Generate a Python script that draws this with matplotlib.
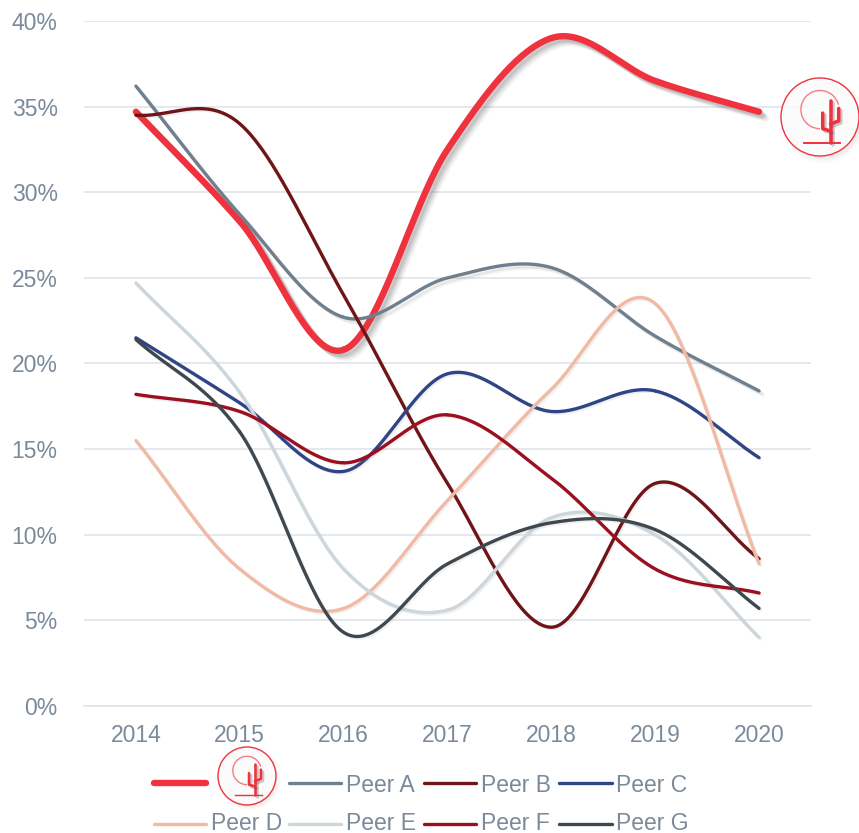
import numpy as np
import matplotlib
matplotlib.use('Agg')
import matplotlib.pyplot as plt
import matplotlib.patheffects as pe
from matplotlib.patches import Arc, Circle

plt.rcParams['font.family'] = ['Liberation Sans', 'DejaVu Sans']

years = ['2014', '2015', '2016', '2017', '2018', '2019', '2020']
y_ticks = [0, 5, 10, 15, 20, 25, 30, 35, 40]

company = [34.7, 28.3, 20.8, 32.5, 39.0, 36.5, 34.7]
peer_a = [36.2, 28.7, 22.7, 25.0, 25.6, 21.6, 18.4]
peer_b = [34.5, 34.0, 24.0, 13.0, 4.6, 13.0, 8.6]
peer_c = [21.5, 17.7, 13.7, 19.4, 17.2, 18.4, 14.5]
peer_d = [15.5, 8.0, 5.7, 12.0, 18.5, 23.5, 8.3]
peer_e = [24.7, 18.3, 8.0, 5.6, 11.0, 10.0, 4.0]
peer_f = [18.2, 17.2, 14.2, 17.0, 13.3, 8.0, 6.6]
peer_g = [21.4, 16.0, 4.3, 8.3, 10.7, 10.3, 5.7]

RED = '#f0323f'
TEXT = '#7b8a9a'
GRID = '#e0e4ea'
W, H = 859, 833


def smooth(values, n=40):
    # same idea as a spreadsheet "smoothed line": a spline through the yearly values
    v = np.array(values, dtype=float)
    p = np.concatenate([[2 * v[0] - v[1]], v, [2 * v[-1] - v[-2]]])
    xs, ys = [], []
    for i in range(len(v) - 1):
        t = np.linspace(0, 1, n)
        p0, p1, p2, p3 = p[i], p[i + 1], p[i + 2], p[i + 3]
        ys.append(0.5 * (2 * p1 + (p2 - p0) * t + (2 * p0 - 5 * p1 + 4 * p2 - p3) * t ** 2
                         + (3 * p1 - p0 - 3 * p2 + p3) * t ** 3))
        xs.append(i + t)
    return np.concatenate(xs), np.concatenate(ys)


def logo(ov, cx, cy, r):
    # soft shadow, then ring, sun arc and cactus
    for k, a in ((1.10, 0.025), (1.06, 0.03), (1.02, 0.04), (0.98, 0.05)):
        ov.add_patch(Circle((cx + r * 0.07, cy + r * 0.09), r * k, fc='#808080', ec='none', alpha=a, zorder=3))
    ov.add_patch(Circle((cx, cy), r, fc='white', ec='none', alpha=0.8, zorder=3.5))
    ov.add_patch(Circle((cx, cy), r, fc='none', ec=RED, lw=1.0, zorder=4))
    ov.add_patch(Arc((cx, cy - 0.19 * r), r * 0.98, r * 0.98, theta1=90, theta2=-15, ec='#f27d85', lw=1.0, zorder=4))
    stroke = [pe.SimpleLineShadow(offset=(1.5, -1.5), shadow_color='#555555', alpha=0.3), pe.Normal()]
    lw = r * 0.065
    segs = [([0.27, 0.27], [-0.40, 0.66]),
            ([0.07, 0.07, 0.27], [-0.10, 0.30, 0.36]),
            ([0.48, 0.48, 0.27], [-0.22, 0.10, 0.18])]
    for sx, sy in segs:
        ov.plot(cx + np.array(sx) * r, cy + np.array(sy) * r, color=RED, lw=lw, solid_capstyle='round',
                solid_joinstyle='round', path_effects=stroke, zorder=5)
    ov.plot([cx - 0.40 * r, cx + 0.52 * r], [cy + 0.66 * r, cy + 0.66 * r], color=RED, lw=lw * 0.55, zorder=5)


fig = plt.figure(figsize=(W / 100, H / 100), dpi=100, facecolor='white')
ax = fig.add_axes([84 / W, 1 - 706 / H, (811 - 84) / W, (706 - 21) / H])

soft = [pe.SimpleLineShadow(offset=(o, -o), shadow_color='#666666', alpha=a)
        for o, a in ((5, 0.07), (4, 0.10), (3, 0.14), (2, 0.18))] + [pe.Normal()]
mid = [pe.SimpleLineShadow(offset=(o, -o), shadow_color='#777777', alpha=a)
       for o, a in ((3, 0.08), (2, 0.12))] + [pe.Normal()]
light = [pe.SimpleLineShadow(offset=(1.2, -1.2), shadow_color='#888888', alpha=0.12), pe.Normal()]

series = [
    (company, RED, 4.6, soft, None),
    (peer_a, '#6f7f8d', 2.4, mid, 'Peer A'),
    (peer_b, '#6f1518', 2.4, light, 'Peer B'),
    (peer_c, '#2f4585', 2.4, light, 'Peer C'),
    (peer_d, '#f0baa5', 2.4, light, 'Peer D'),
    (peer_e, '#ccd6db', 2.4, light, 'Peer E'),
    (peer_f, '#9c0f1f', 2.4, light, 'Peer F'),
    (peer_g, '#3f484f', 2.4, light, 'Peer G'),
]
for i, (vals, col, lw, fx, name) in enumerate(series):
    sx, sy = smooth(vals)
    ax.plot(sx, sy, color=col, lw=lw, solid_capstyle='round', path_effects=fx, zorder=2 + i * 0.1)

ax.set_xlim(-0.5, 6.5)
ax.set_ylim(0, 40)
ax.set_xticks(range(len(years)))
ax.set_xticklabels(years)
ax.set_yticks(y_ticks)
ax.set_yticklabels([f'{t}%' for t in y_ticks])
ax.tick_params(length=0, labelsize=16.5, labelcolor=TEXT)
ax.tick_params(axis='x', pad=13)
ax.tick_params(axis='y', pad=19)
ax.grid(axis='y', color=GRID, lw=1.2)
ax.set_axisbelow(True)
for s in ['top', 'right', 'left']:
    ax.spines[s].set_visible(False)
ax.spines['bottom'].set_color(GRID)
ax.spines['bottom'].set_linewidth(1.2)

# overlay in pixel coordinates for the logos and the hand-placed legend
ov = fig.add_axes([0, 0, 1, 1], zorder=5)
ov.set_xlim(0, W)
ov.set_ylim(H, 0)
ov.axis('off')

logo(ov, 820, 117, 39)
logo(ov, 247, 776, 29)

ov.plot([154, 206], [783, 783], color=RED, lw=4.6, solid_capstyle='round')
legend_slots = [(289, 341, 346, 783, 785), (424, 476, 481, 783, 785), (559, 612, 616, 783, 785),
                (154, 206, 211, 824, 823), (289, 341, 346, 824, 823), (424, 476, 481, 824, 823),
                (559, 612, 616, 824, 823)]
for (vals, col, lw, fx, name), (x0, x1, tx, y, ty) in zip(series[1:], legend_slots):
    ov.plot([x0, x1], [y, y], color=col, lw=lw, solid_capstyle='round')
    ov.text(tx, ty, name, color=TEXT, fontsize=16.5, va='center', ha='left')

fig.savefig('out.png', dpi=100)
